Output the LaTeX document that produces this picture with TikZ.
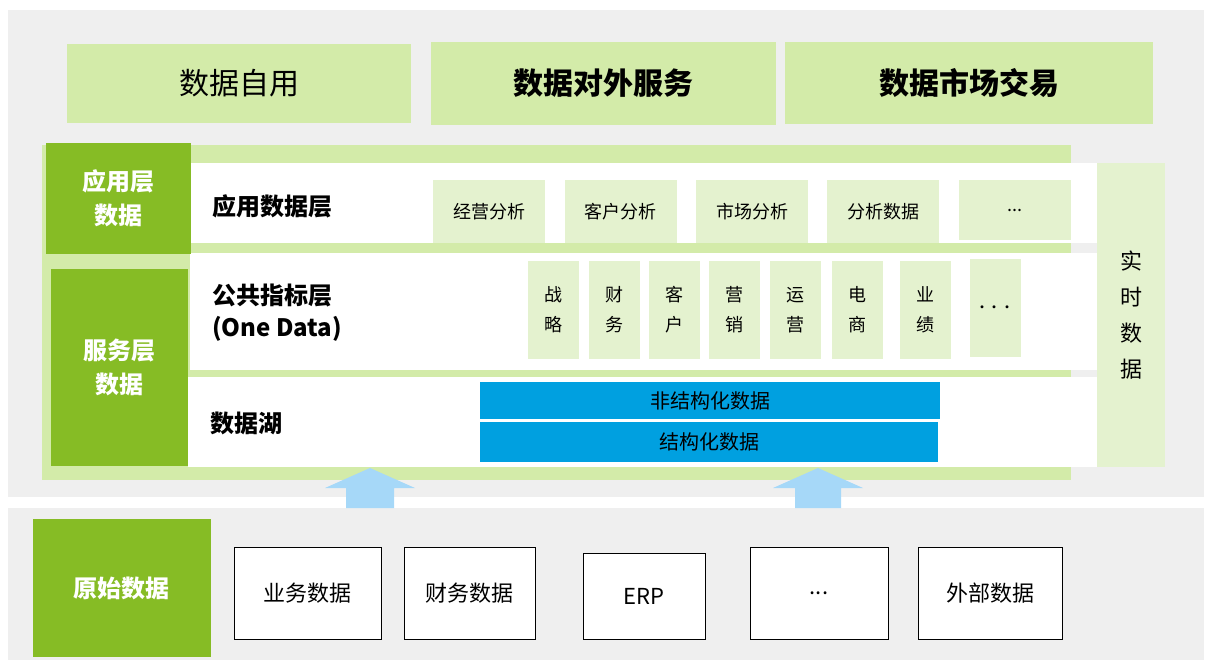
\documentclass[tikz,border=0pt]{standalone}
\usepackage{fontspec}
\setmainfont{Noto Sans CJK SC}
\usetikzlibrary{positioning}
\definecolor{bggray}{HTML}{EFEFEF}
\definecolor{lgreen}{HTML}{D3EBA9}
\definecolor{pgreen}{HTML}{E4F2CF}
\definecolor{dgreen}{HTML}{86BC25}
\definecolor{lakeblue}{HTML}{00A0E0}
\definecolor{arrblue}{HTML}{A6D8F8}
\begin{document}
\begin{tikzpicture}[x=0.5pt,y=-0.5pt,
            top box/.style={fill=lgreen, inner sep=0pt, font=\fontsize{15}{18}\selectfont},
            dark box/.style={fill=dgreen, text=white, inner sep=0pt, align=center, font=\bfseries\fontsize{12}{17}\selectfont},
            item box/.style={fill=pgreen, inner sep=0pt, align=center, minimum width=56pt, minimum height=31.5pt, font=\fontsize{9}{11}\selectfont},
            kpi box/.style={fill=pgreen, inner sep=0pt, align=center, minimum width=25.5pt, minimum height=49pt, font=\fontsize{9}{15}\selectfont},
            lake box/.style={fill=lakeblue, inner sep=0pt, font=\fontsize{10}{12}\selectfont},
            src box/.style={draw=black, fill=white, inner sep=0pt, minimum height=46pt, font=\fontsize{11}{13}\selectfont},
            layer label/.style={anchor=west, align=left, font=\bfseries\fontsize{12}{16}\selectfont},
            ]
            \useasboundingbox (0,0) rectangle (1212,666);

            % backgrounds
            \fill[bggray] (8,10) rectangle (1204,497);
            \fill[bggray] (8,508) rectangle (1204,660);
            \fill[lgreen] (42,145) rectangle (1071,480);
            \fill[white] (190,163) rectangle (1098,243);
            \fill[white] (190,253) rectangle (1098,370);
            \fill[white] (188,377) rectangle (1098,467);

            % top row
            \node[top box, minimum width=172pt, minimum height=39.5pt] (self) at (239,83.5) {数据自用};
            \node[top box, minimum width=172.5pt, minimum height=41.5pt, font=\bfseries\fontsize{15}{18}\selectfont] (ext) at (603.5,83.5) {数据对外服务};
            \node[top box, minimum width=184pt, minimum height=41pt, font=\bfseries\fontsize{15}{18}\selectfont] (market) at (969,83) {数据市场交易};

            % side labels
            \node[dark box, minimum width=72.5pt, minimum height=55.5pt] (app) at (118.5,198.5) {应用层\\数据};
            \node[dark box, minimum width=68.5pt, minimum height=98.5pt] (srv) at (119.5,367.5) {服务层\\数据};
            \node[fill=pgreen, inner sep=0pt, align=center, minimum width=34pt, minimum height=152pt, font=\fontsize{11}{18}\selectfont] (rt) at (1131,315) {实\\时\\数\\据};

            % layer names
            \node[layer label] (appl) at (205,206) {应用数据层};
            \node[layer label] (kpil) at (205,313) {公共指标层\\(One Data)};
            \node[layer label] (lakel) at (203,423) {数据湖};

            % application items
            \node[item box] (a1) at (489,211.5) {经营分析};
            \node[item box] (a2) at (620.5,211.5) {客户分析};
            \node[item box] (a3) at (752,211.5) {市场分析};
            \node[item box] (a4) at (883,211.5) {分析数据};
            \node[item box, minimum height=30pt] (a5) at (1015,210) {...};

            % indicators
            \node[kpi box] (k1) at (553.5,310) {战\\略};
            \node[kpi box] (k2) at (614,310) {财\\务};
            \node[kpi box] (k3) at (674,310) {客\\户};
            \node[kpi box] (k4) at (734.5,310) {营\\销};
            \node[kpi box] (k5) at (795.5,310) {运\\营};
            \node[kpi box] (k6) at (857.5,310) {电\\商};
            \node[kpi box] (k7) at (925.5,310) {业\\绩};
            \node[kpi box, font=\bfseries\fontsize{14}{16}\selectfont] (k8) at (995,308) {$\cdots$};

            % data lake
            \node[lake box, minimum width=230pt, minimum height=18.5pt] (unstr) at (710,400.5) {非结构化数据};
            \node[lake box, minimum width=229pt, minimum height=20pt] (str) at (709,442) {结构化数据};

            % arrows
            \fill[arrblue] (346,508) -- (346,488) -- (325,488) -- (370,468) -- (415,488) -- (394,488) -- (394,508) -- cycle;
            \fill[arrblue] (795,508) -- (795,488) -- (773,488) -- (818,468) -- (863,488) -- (841,488) -- (841,508) -- cycle;

            % raw data
            \node[dark box, minimum width=89pt, minimum height=69pt] (raw) at (122,588) {原始数据};
            \node[src box, minimum width=73.5pt] (s1) at (307.5,593) {业务数据};
            \node[src box, minimum width=65.5pt] (s2) at (469.5,593) {财务数据};
            \node[src box, minimum width=61pt, minimum height=43pt] (s3) at (644,596) {ERP};
            \node[src box, minimum width=69pt] (s4) at (819,593) {...};
            \node[src box, minimum width=72pt] (s5) at (990,593) {外部数据};
        \end{tikzpicture}
\end{document}
